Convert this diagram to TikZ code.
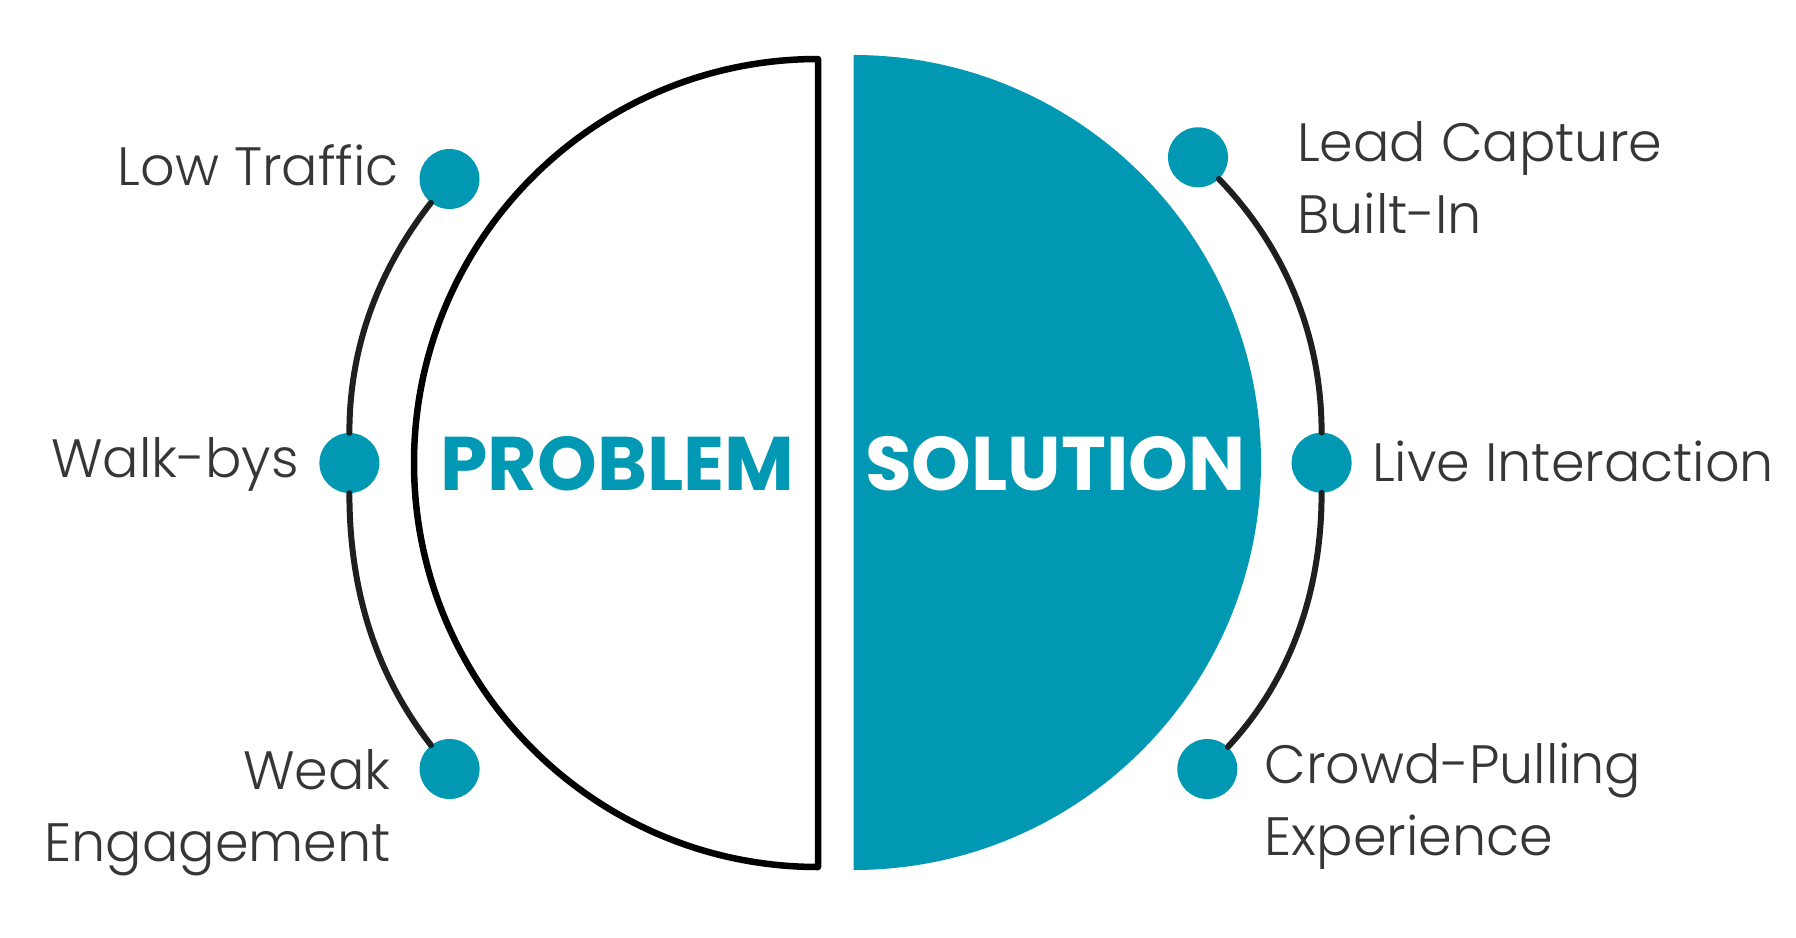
\documentclass[tikz,border=0pt]{standalone}
\usepackage{fontspec}
\setmainfont{Poppins Light}
\definecolor{xanh}{HTML}{0098B3}
\definecolor{chu}{HTML}{363636}
\begin{document}
\begin{tikzpicture}[x=1pt, y=1pt, line join=round, line cap=round,
	cham/.style={circle, fill=xanh, minimum size=60pt, inner sep=0pt},
	cung/.style={line width=6pt, draw=black!88, looseness=0.9},
	nhan/.style={text=chu, inner sep=0pt, font=\fontsize{54}{72}\selectfont},
	tieude/.style={inner sep=0pt, font=\fontsize{76}{76}\selectfont\fontspec{Poppins Bold}}]
	\useasboundingbox (0,0) rectangle (1796,-937);
	\def\bankinh{404}
	\fill[xanh] (853.5,-55) arc[start angle=90, end angle=-90, radius=407.5] -- cycle;
	\draw[line width=6.5pt] (818,-59) -- (818,-867) arc[start angle=-90, end angle=-270, radius=\bankinh] -- cycle;
	\foreach \x/\p in {A/{449.5,-179}, B/{349.4,-463}, C/{449.6,-769}, D/{1198,-157.3}, E/{1321.6,-462.7}, F/{1207.3,-769}}{
	\node[cham] (\x) at (\p) {};
	}
	\draw[cung] (A) to[out=232, in=90] (B) to[out=-90, in=128] (C);
	\draw[cung] (D) to[out=-46, in=90] (E) to[out=-90, in=47] (F);
	\node[tieude, text=xanh, anchor=base] (PB) at (617.5,-490) {PROBLEM};
	\node[tieude, text=white, anchor=base] (SL) at (1055.5,-490) {SOLUTION};
	\node[nhan, anchor=base east] (tA) at (399,-185) {Low Traffic};
	\node[nhan, anchor=base east] (tB) at (299,-477) {Walk-bys};
	\node[nhan, anchor=base east, align=right] (tC) at (391,-861) {Weak\\Engagement};
	\node[nhan, anchor=base west, align=left] (tD) at (1297,-233) {Lead Capture\\Built-In};
	\node[nhan, anchor=base west] (tE) at (1372,-481.7) {Live Interaction};
	\node[nhan, anchor=base west, align=left] (tF) at (1264.5,-855) {Crowd-Pulling\\Experience};
\end{tikzpicture}
\end{document}
